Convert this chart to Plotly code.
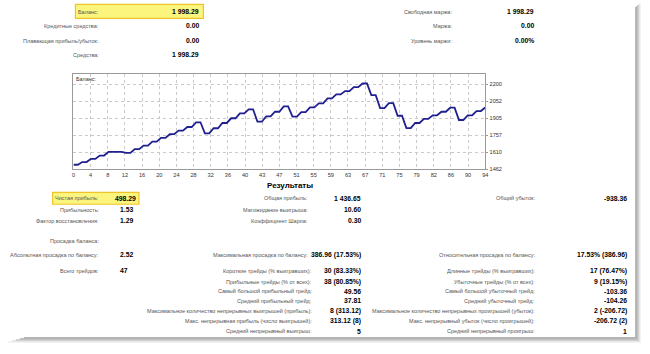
import numpy as np
import plotly.graph_objects as go

# ---------------- data ----------------
balance = [1500, 1500, 1523, 1523, 1551, 1551, 1580, 1580, 1612, 1612,
           1613, 1613, 1603, 1603, 1636, 1636, 1667, 1667, 1702, 1702,
           1734, 1734, 1766, 1766, 1797, 1797, 1829, 1829, 1870, 1870,
           1774, 1774, 1818, 1818, 1864, 1864, 1905, 1905, 1948, 1948,
           1983, 1983, 1875, 1875, 1922, 1922, 1962, 1962, 2009, 2009,
           1919, 1919, 1959, 1959, 2000, 2000, 2035, 2035, 2078, 2078,
           2113, 2113, 2142, 2142, 2176, 2176, 2208, 2208, 2107, 2107,
           1994, 1994, 2037, 2037, 1927, 1927, 1820, 1820, 1864, 1864,
           1899, 1899, 1931, 1931, 1962, 1962, 1997, 1997, 1890, 1890,
           1931, 1931, 1968, 1968, 1998.29]
x_tick_labels = ["0", "4", "8", "12", "16", "20", "24", "28", "32", "36", "40", "43",
                 "47", "51", "55", "59", "63", "67", "71", "75", "79", "82", "86", "90", "94"]
y_tick_values = [1462.4, 1610.0, 1757.6, 1905.2, 2052.8, 2200.4]
y_tick_labels = ["1462", "1610", "1757", "1905", "2052", "2200"]

top_left_labels = ["Баланс:", "Кредитные средства:", "Плавающая прибыль/убыток:", "Средства:"]
top_left_values = ["1 998.29", "0.00", "0.00", "1 998.29"]
top_right_labels = ["Свободная маржа:", "Маржа:", "Уровень маржи:"]
top_right_values = ["1 998.29", "0.00", "0.00%"]

res_left_labels = ["Чистая прибыль:", "Прибыльность:", "Фактор восстановления:", "Просадка баланса:",
                   "Абсолютная просадка по балансу:", "Всего трейдов:"]
res_left_values = ["498.29", "1.53", "1.29", "", "2.52", "47"]
res_mid_labels = ["Общая прибыль:", "Матожидание выигрыша:", "Коэффициент Шарпа:", "",
                  "Максимальная просадка по балансу:"]
res_mid_values = ["1 436.65", "10.60", "0.30", "", "386.96 (17.53%)"]
res_right_labels = ["Общий убыток:", "", "", "", "Относительная просадка по балансу:"]
res_right_values = ["-938.36", "", "", "", "17.53% (386.96)"]

trade_mid_labels = ["Короткие трейды (% выигравших):", "Прибыльные трейды (% от всех):",
                    "Самый большой прибыльный трейд:", "Средний прибыльный трейд:",
                    "Максимальное количество непрерывных выигрышей (прибыль):",
                    "Макс. непрерывная прибыль (число выигрышей):", "Средний непрерывный выигрыш:"]
trade_mid_values = ["30 (83.33%)", "38 (80.85%)", "49.56", "37.81", "8 (313.12)", "313.12 (8)", "5"]
trade_right_labels = ["Длинные трейды (% выигравших):", "Убыточные трейды (% от всех):",
                      "Самый большой убыточный трейд:", "Средний убыточный трейд:",
                      "Максимальное количество непрерывных проигрышей (убыток):",
                      "Макс. непрерывный убыток (число проигрышей):", "Средний непрерывный проигрыш:"]
trade_right_values = ["17 (76.47%)", "9 (19.15%)", "-103.36", "-104.26", "2 (-206.72)", "-206.72 (2)", "1"]

# ---------------- layout helpers ----------------
W, H = 650, 354
FONT = "Liberation Sans, Arial, sans-serif"
LBL = dict(family=FONT, size=5.5, color="#555555")
VAL = dict(family=FONT, size=6.8, color="#000000")


def px(x):
    return x / W


def py(y):
    return 1 - y / H


annotations = []
shapes = []


def text(x, y, s, anchor, bold=False, font=None):
    if not s:
        return
    f = dict(font if font else (VAL if bold else LBL))
    annotations.append(dict(x=px(x), y=py(y), xref="paper", yref="paper",
                            text=("<b>%s</b>" % s) if bold else s,
                            showarrow=False, xanchor=anchor, yanchor="middle", font=f, borderpad=0))


def box(x0, y0, x1, y1):
    shapes.append(dict(type="rect", xref="paper", yref="paper", x0=px(x0), x1=px(x1), y0=py(y1), y1=py(y0),
                       fillcolor="#fbf57e", line=dict(color="#efc42a", width=1.2), layer="below"))


# yellow highlight boxes
box(74, 4.5, 203, 18.5)
box(51, 194, 138, 206)

# top section
top_rows = [12, 26, 41, 55]
for lab, val, yy in zip(top_left_labels, top_left_values, top_rows):
    text(99, yy, lab, "right")
    text(200, yy, val, "right", bold=True)
for lab, val, yy in zip(top_right_labels, top_right_values, top_rows):
    text(454, yy, lab, "right")
    text(537, yy, val, "right", bold=True)

# results title
text(290, 187, "Результаты", "center", bold=True, font=dict(family=FONT, size=8, color="#000"))

res_rows = [200, 211.5, 222.5, 243, 257, 273]
for i, (lab, val) in enumerate(zip(res_left_labels, res_left_values)):
    yy = res_rows[i]
    text(99, yy, lab, "right")
    text(113 if i == 0 else 118, yy, val, "left", bold=True)
for i, (lab, val) in enumerate(zip(res_mid_labels, res_mid_values)):
    yy = res_rows[i]
    text(309, yy, lab, "right")
    text(363, yy, val, "right", bold=True)
for i, (lab, val) in enumerate(zip(res_right_labels, res_right_values)):
    yy = res_rows[i]
    text(538, yy, lab, "right")
    text(631, yy, val, "right", bold=True)

trade_rows = [273, 284, 293.5, 303.5, 314, 324, 334]
for i, (lab, val) in enumerate(zip(trade_mid_labels, trade_mid_values)):
    yy = trade_rows[i]
    text(313, yy, lab, "right")
    text(363, yy, val, "right", bold=True)
for i, (lab, val) in enumerate(zip(trade_right_labels, trade_right_values)):
    yy = trade_rows[i]
    text(538, yy, lab, "right")
    text(631, yy, val, "right", bold=True)

# chart caption inside plot
text(74, 80, "Баланс:", "left", font=dict(family=FONT, size=5.4, color="#333"))

# page shadow (right and bottom)
shadow_steps = [("#f4f4f4", 0), ("#e6e6e6", 1), ("#d2d2d2", 2), ("#c0c0c0", 3), ("#b4b4b4", 4)]
for col, k in shadow_steps:
    shapes.append(dict(type="rect", xref="paper", yref="paper",
                       x0=px(642 - k), x1=px(644 - k), y0=py(346 - k), y1=py(3 + k),
                       fillcolor=col, line=dict(width=0), layer="below"))
    shapes.append(dict(type="rect", xref="paper", yref="paper",
                       x0=px(6 + k * 4), x1=px(643 - k), y0=py(346 - k), y1=py(344 - k),
                       fillcolor=col, line=dict(width=0), layer="below"))

# ---------------- figure ----------------
x_idx = list(range(len(balance)))
fig = go.Figure()
fig.add_trace(go.Scatter(x=x_idx, y=balance, mode="lines",
                         line=dict(color="#1f1f8f", width=1.8), hoverinfo="skip", showlegend=False))

fig.update_layout(
    width=W, height=H, margin=dict(l=0, r=0, t=0, b=0),
    paper_bgcolor="white", plot_bgcolor="white",
    annotations=annotations, shapes=shapes,
    xaxis=dict(domain=[px(72), px(487)], range=[0, len(balance) - 1], anchor="y",
               tickmode="array", tickvals=list(np.linspace(0, len(balance) - 1, len(x_tick_labels))),
               ticktext=x_tick_labels, showgrid=True, gridcolor="#c9c9c9", griddash="dot", gridwidth=1,
               showline=True, mirror=True, linecolor="#9a9a9a", linewidth=1.3, zeroline=False,
               ticks="", tickfont=dict(family=FONT, size=5.6, color="#333")),
    yaxis=dict(domain=[py(170.5), py(74.5)], range=[1462.4, 2292], side="right", anchor="x",
               tickmode="array", tickvals=y_tick_values, ticktext=y_tick_labels,
               showgrid=True, gridcolor="#c9c9c9", griddash="dot", gridwidth=1,
               showline=True, mirror=True, linecolor="#9a9a9a", linewidth=1.3, zeroline=False,
               ticks="outside", ticklen=2, tickcolor="#9a9a9a",
               tickfont=dict(family=FONT, size=5.6, color="#333")),
)

fig.write_html("out.html")
